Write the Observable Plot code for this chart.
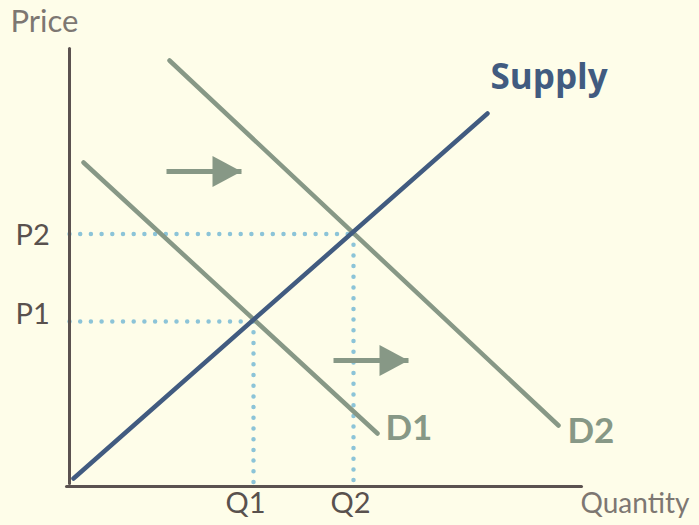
<!DOCTYPE html>
<html>
<head>
<meta charset="utf-8">
<script src="https://cdn.jsdelivr.net/npm/d3@7"></script>
<script src="https://cdn.jsdelivr.net/npm/@observablehq/plot@0.6"></script>
<style>
  html, body { margin: 0; padding: 0; background: #fefde9; }
  #chart svg { display: block; }
</style>
</head>
<body>
<div id="chart"></div>
<script>
// Curves (quantity, price) in abstract units
const supplyCurve = [{q: 0.08, p: 0.16}, {q: 8.36, p: 7.46}];
const demand1Curve = [{q: 0.28, p: 6.48}, {q: 6.16, p: 1.06}];
const demand2Curve = [{q: 2.00, p: 8.52}, {q: 9.78, p: 1.22}];
// Equilibria
const equilibria = [{name: "1", q: 3.68, p: 3.30}, {name: "2", q: 5.68, p: 5.05}];
// Shift arrows
const shiftArrows = [{q0: 1.94, q1: 3.44, p: 6.30}, {q0: 5.28, q1: 6.78, p: 2.52}];
// Axes
const yAxisLine = [{q: 0, p: 0.06}, {q: 0, p: 8.76}];
const xAxisLine = [{q: -0.06, p: 0}, {q: 10.24, p: 0}];
// Labels
const priceTicks = [{label: "P2", q: -1.08, p: 5.02}, {label: "P1", q: -1.08, p: 3.44}];
const quantityTicks = [{label: "Q1", q: 3.52, p: -0.34}, {label: "Q2", q: 5.62, p: -0.34}];
const axisTitles = [{label: "Price", q: -1.18, p: 9.28, size: 31}, {label: "Quantity", q: 10.22, p: -0.36, size: 28}];
const curveLabels = [
  {label: "Supply", q: 8.42, p: 8.18, color: "#415b80", size: 35, family: "'Open Sans', Lato, sans-serif"},
  {label: "D1", q: 6.32, p: 1.16, color: "#879886", size: 35, family: "Lato, sans-serif"},
  {label: "D2", q: 9.96, p: 1.09, color: "#879886", size: 35, family: "Lato, sans-serif"}
];

const hLines = equilibria.flatMap(e => [{id: e.name, q: 0, p: e.p}, {id: e.name, q: e.q, p: e.p}]);
const vLines = equilibria.flatMap(e => [{id: e.name, q: e.q, p: e.p}, {id: e.name, q: e.q, p: 0}]);

const arrowHead = {
  draw(ctx) {
    ctx.moveTo(0, 0);
    ctx.lineTo(-29, -15.5);
    ctx.lineTo(-29, 15.5);
    ctx.closePath();
  }
};

const font = "Lato, 'DejaVu Sans', sans-serif";

const chart = Plot.plot({
  width: 699,
  height: 525,
  margin: 0,
  style: {background: "#fefde9", overflow: "visible"},
  x: {domain: [-1.38, 12.6], range: [0, 699], axis: null},
  y: {domain: [-0.78, 9.72], range: [525, 0], axis: null},
  marks: [
    Plot.line(hLines, {x: "q", y: "p", z: "id", stroke: "#8cc4d8", strokeWidth: 4.5, strokeDasharray: "0,10.7", strokeLinecap: "round"}),
    Plot.line(vLines, {x: "q", y: "p", z: "id", stroke: "#8cc4d8", strokeWidth: 4.5, strokeDasharray: "0,10.7", strokeLinecap: "round"}),
    Plot.line(yAxisLine, {x: "q", y: "p", stroke: "#5b5250", strokeWidth: 3}),
    Plot.line(xAxisLine, {x: "q", y: "p", stroke: "#5b5250", strokeWidth: 3}),
    Plot.line(demand1Curve, {x: "q", y: "p", stroke: "#879886", strokeWidth: 4.5}),
    Plot.line(demand2Curve, {x: "q", y: "p", stroke: "#879886", strokeWidth: 4.5}),
    Plot.line(supplyCurve, {x: "q", y: "p", stroke: "#415b80", strokeWidth: 4.5}),
    Plot.link(shiftArrows, {x1: "q0", x2: "q1", y1: "p", y2: "p", stroke: "#879886", strokeWidth: 5}),
    Plot.dot(shiftArrows, {x: "q1", y: "p", symbol: arrowHead, fill: "#879886", stroke: "none", r: 10}),
    Plot.text(priceTicks, {x: "q", y: "p", text: "label", textAnchor: "start", fill: "#59514e", fontSize: 29, fontFamily: font}),
    Plot.text(quantityTicks, {x: "q", y: "p", text: "label", textAnchor: "middle", fill: "#59514e", fontSize: 29, fontFamily: font}),
    Plot.text(axisTitles, {x: "q", y: "p", text: "label", textAnchor: "start", fill: "#7d7772", fontSize: d => d.size, fontFamily: font}),
    Plot.text(curveLabels.slice(0, 1), {x: "q", y: "p", text: "label", textAnchor: "start", fill: d => d.color, fontSize: d => d.size, fontWeight: "bold", fontFamily: "'Open Sans', Lato, sans-serif"}),
    Plot.text(curveLabels.slice(1), {x: "q", y: "p", text: "label", textAnchor: "start", fill: d => d.color, fontSize: d => d.size, fontWeight: "bold", fontFamily: font})
  ]
});
document.getElementById("chart").appendChild(chart);
</script>
</body>
</html>
